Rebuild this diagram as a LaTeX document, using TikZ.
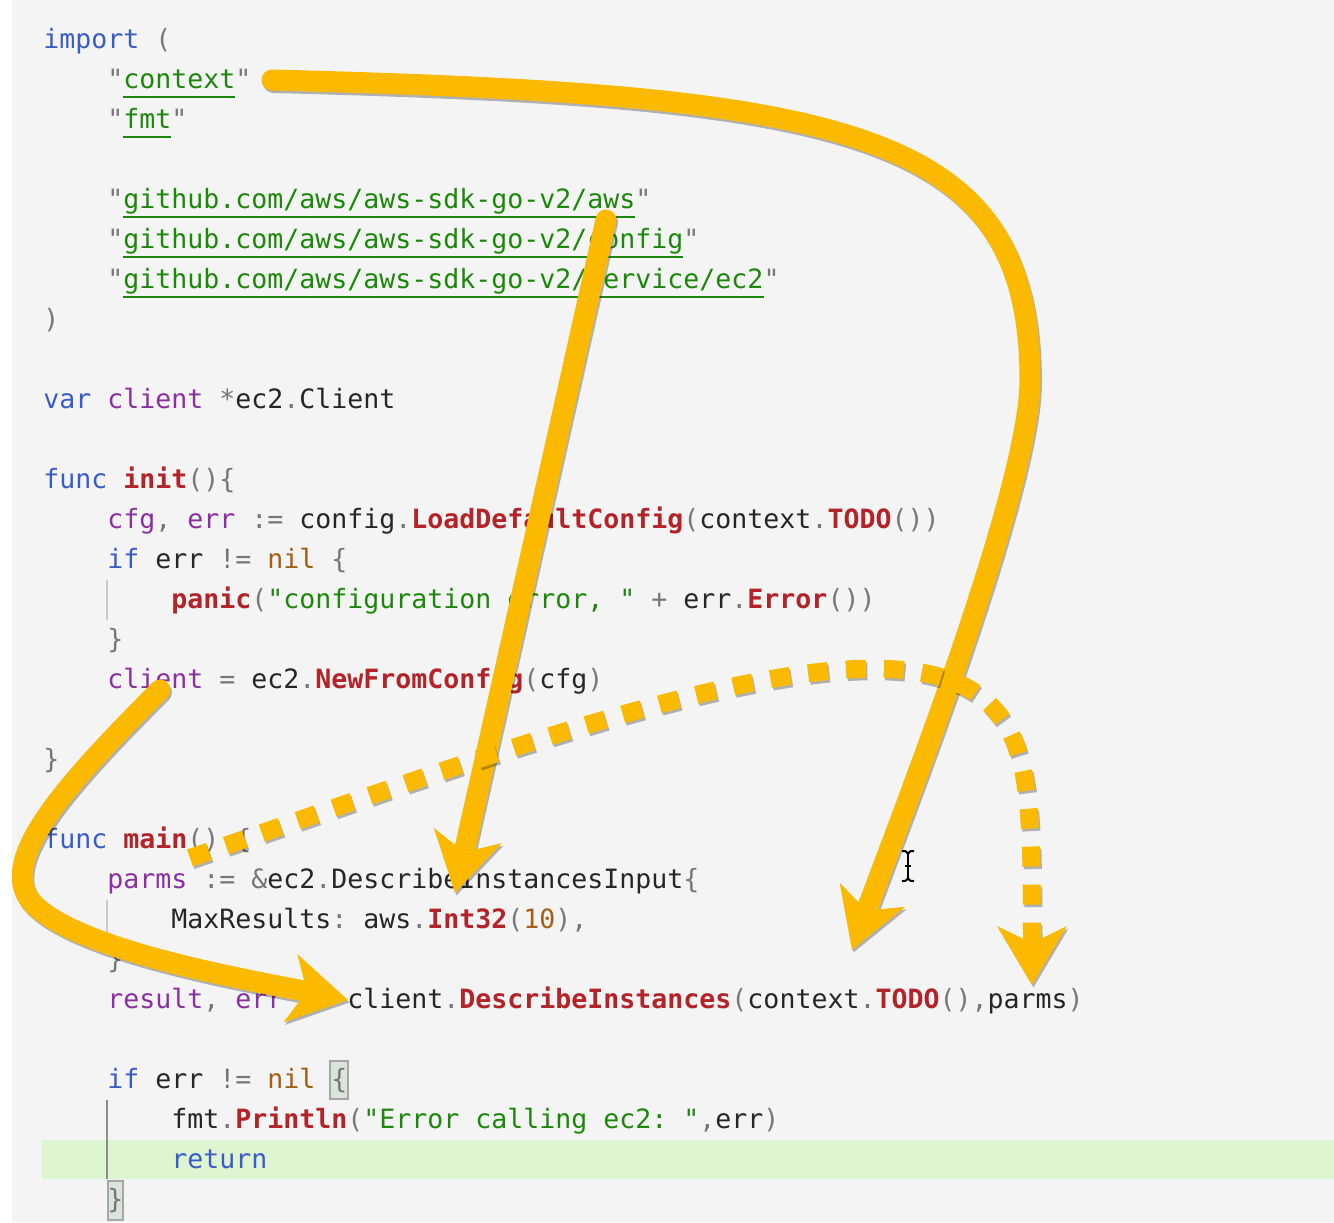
\documentclass[tikz,border=0pt]{standalone}
\usepackage{fontspec}
\setmonofont{DejaVu Sans Mono}
\usetikzlibrary{arrows.meta, positioning}

\definecolor{pagegray}{RGB}{244,244,244}
\definecolor{kwblue}{RGB}{58,92,200}
\definecolor{idpurple}{RGB}{138,48,160}
\definecolor{fnred}{RGB}{180,35,40}
\definecolor{strgreen}{RGB}{28,136,10}
\definecolor{litbrown}{RGB}{166,94,20}
\definecolor{pungray}{RGB}{118,118,118}
\definecolor{codedark}{RGB}{38,38,38}
\definecolor{linegreen}{RGB}{222,245,210}
\definecolor{boxgreen}{RGB}{218,229,218}
\definecolor{markeryellow}{RGB}{251,185,0}

\newcommand\kwd[1]{\textcolor{kwblue}{#1}}
\newcommand\idv[1]{\textcolor{idpurple}{#1}}
\newcommand\fnc[1]{\textcolor{fnred}{\bfseries #1}}
\newcommand\strg[1]{\textcolor{strgreen}{#1}}
\newcommand\lit[1]{\textcolor{litbrown}{#1}}
\newcommand\pun[1]{\textcolor{pungray}{#1}}
\newcommand\impath[1]{\textcolor{strgreen}{\setbox0\hbox{#1}\rlap{\rule[-4.75pt]{\wd0}{1pt}}\box0}}

\begin{document}
\begin{tikzpicture}[
    x=0.5pt, y=-0.5pt,
    % Define the style for each block
    code/.style={anchor=base west, inner sep=0pt, text=codedark, font=\ttfamily\fontsize{13.29pt}{16pt}\selectfont\frenchspacing},
    bracebox/.style={draw=black!35, fill=boxgreen, line width=0.6pt},
    guide/.style={draw=black!20, line width=0.6pt},
    connector/.style={draw=markeryellow, line width=10.5pt, line cap=round, -{Stealth[length=29pt, width=34pt, inset=8pt]},
        preaction={draw=black, opacity=0.28, line width=10.5pt, line cap=round, transform canvas={shift={(1.5,2.5)}}}},
    dotconnector/.style={draw=markeryellow, line width=9pt, dash pattern=on 10pt off 9pt, -{Stealth[length=29pt, width=34pt, inset=8pt]},
        preaction={draw=black, opacity=0.28, line width=9pt, dash pattern=on 10pt off 9pt, transform canvas={shift={(1.5,2.5)}}}}
]

\useasboundingbox (0,0) rectangle (1334,1222);
\fill[white] (0,0) rectangle (1334,1222);
\fill[pagegray] (12,0) rectangle (1334,1222);
\fill[linegreen] (42,1140) rectangle (1334,1179);
\draw[bracebox] (330,1061) rectangle (348,1099);
\draw[bracebox] (108,1181) rectangle (123,1220);

\draw[guide] (107,580) -- (107,620);
\draw[guide] (107,900) -- (107,940);
\draw[guide, draw=black!45] (107,1100) -- (107,1179);

% Place code lines at their baselines
\node[code] (imp) at (43,48) {\kwd{import} \pun{(}};
\node[code] (ctx) at (107,88) {\pun{"}\impath{context}\pun{"}};
\node[code] (fmt) at (107,128) {\pun{"}\impath{fmt}\pun{"}};
\node[code] (sdkaws) at (107,208) {\pun{"}\impath{github.com/aws/aws-sdk-go-v2/aws}\pun{"}};
\node[code] (sdkcfg) at (107,248) {\pun{"}\impath{github.com/aws/aws-sdk-go-v2/config}\pun{"}};
\node[code] (sdkec2) at (107,288) {\pun{"}\impath{github.com/aws/aws-sdk-go-v2/service/ec2}\pun{"}};
\node[code] (impend) at (43,328) {\pun{)}};

\node[code] (clientvar) at (43,408) {\kwd{var} \idv{client} \pun{*}ec2\pun{.}Client};

\node[code] (initfn) at (43,488) {\kwd{func} \fnc{init}\pun{()\{}};
\node[code] (cfgln) at (107,528) {\idv{cfg}\pun{,} \idv{err} \pun{:=} config\pun{.}\fnc{LoadDefaultConfig}\pun{(}context\pun{.}\fnc{TODO}\pun{())}};
\node[code] (errchk) at (107,568) {\kwd{if} err \pun{!=} \lit{nil} \pun{\{}};
\node[code] (panicln) at (171,608) {\fnc{panic}\pun{(}\strg{"configuration error, "} \pun{+} err\pun{.}\fnc{Error}\pun{())}};
\node[code] (errend) at (107,648) {\pun{\}}};
\node[code] (newcli) at (107,688) {\idv{client} \pun{=} ec2\pun{.}\fnc{NewFromConfig}\pun{(}cfg\pun{)}};
\node[code] (initend) at (43,768) {\pun{\}}};

\node[code] (mainfn) at (43,848) {\kwd{func} \fnc{main}\pun{() \{}};
\node[code] (parmsln) at (107,888) {\idv{parms} \pun{:= \&}ec2\pun{.}DescribeInstancesInput\pun{\{}};
\node[code] (maxres) at (171,928) {MaxResults\pun{:} aws\pun{.}\fnc{Int32}\pun{(}\lit{10}\pun{),}};
\node[code] (parmsend) at (107,968) {\pun{\}}};
\node[code] (callln) at (107,1008) {\idv{result}\pun{,} \idv{err} \pun{:=} client\pun{.}\fnc{DescribeInstances}\pun{(}context\pun{.}\fnc{TODO}\pun{(),}parms\pun{)}};
\node[code] (errchk2) at (107,1088) {\kwd{if} err \pun{!=} \lit{nil} \pun{\{}};
\node[code] (println) at (171,1128) {fmt\pun{.}\fnc{Println}\pun{(}\strg{"Error calling ec2: "}\pun{,}err\pun{)}};
\node[code] (retln) at (171,1168) {\kwd{return}};
\node[code] (mainend) at (107,1208) {\pun{\}}};

% Ends of the marker arrows
\coordinate (ctxsrc) at (272,80);
\coordinate (ctxdst) at (852,950);
\coordinate (awssrc) at (606,220);
\coordinate (awsdst) at (455,893);
\coordinate (clisrc) at (160,690);
\coordinate (clidst) at (348,1000);
\coordinate (prmsrc) at (190,858);
\coordinate (prmdst) at (1032,985);

% Draw connectors
\draw[connector] (ctxsrc) .. controls (850,95) and (1030,130) .. (1030,380) .. controls (1030,490) and (900,820) .. (ctxdst);
\draw[connector] (awssrc) -- (awsdst);
\draw[connector] (clisrc) .. controls (60,790) and (0,860) .. (30,900) .. controls (70,950) and (250,980) .. (clidst);
\draw[dotconnector] (prmsrc) .. controls (560,730) and (880,610) .. (985,700) .. controls (1030,740) and (1032,800) .. (prmdst);

% Text cursor
\draw[line width=1pt] (908,853) -- (908,879) (905,866) -- (911,866);
\draw[line width=1pt] (902,851) .. controls (906,851) .. (908,854) .. controls (910,851) .. (914,851);
\draw[line width=1pt] (902,881) .. controls (906,881) .. (908,878) .. controls (910,881) .. (914,881);
\end{tikzpicture}
\end{document}
